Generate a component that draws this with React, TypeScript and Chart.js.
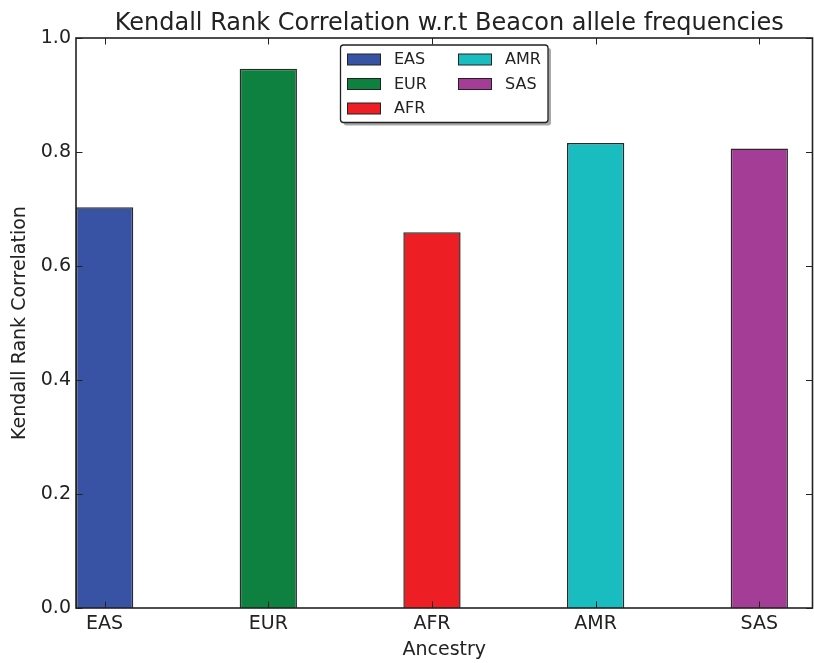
import React, { useEffect, useRef } from "react";
import { Chart, registerables } from "chart.js";

Chart.register(...registerables);

const TITLE = "Kendall Rank Correlation w.r.t Beacon allele frequencies";
const X_LABEL = "Ancestry";
const Y_LABEL = "Kendall Rank Correlation";
const CATEGORIES = ["EAS", "EUR", "AFR", "AMR", "SAS"];
const VALUES = [0.703, 0.946, 0.659, 0.816, 0.806];
const COLORS = ["#3953a4", "#0e803f", "#ed1f25", "#19bdbf", "#a33d95"];
const Y_TICKS = [0, 0.2, 0.4, 0.6, 0.8, 1.0];
const BAR_WIDTH = 0.35;
const X_MAX = 4.5;

const FONT = "'DejaVu Sans', 'Liberation Sans', sans-serif";
const INK = "#222222";

const framePlugin = {
  id: "frame",
  afterDraw(chart: any) {
    const { ctx, chartArea } = chart;
    const { left, right, top, bottom } = chartArea;
    const xs = chart.scales.x;
    const ys = chart.scales.y;
    ctx.save();
    // title
    ctx.fillStyle = INK;
    ctx.font = `24px ${FONT}`;
    ctx.textAlign = "center";
    ctx.textBaseline = "alphabetic";
    ctx.fillText(TITLE, (left + right) / 2 + 5, 29.5);

    // inward ticks
    ctx.strokeStyle = INK;
    ctx.lineWidth = 1;
    const tl = 6.5;
    ctx.beginPath();
    CATEGORIES.forEach((_, i) => {
      const px = Math.round(xs.getPixelForValue(i + BAR_WIDTH / 2)) + 0.5;
      ctx.moveTo(px, bottom);
      ctx.lineTo(px, bottom - tl);
      ctx.moveTo(px, top);
      ctx.lineTo(px, top + tl);
    });
    Y_TICKS.forEach((v) => {
      const py = Math.round(ys.getPixelForValue(v)) + 0.5;
      ctx.moveTo(left, py);
      ctx.lineTo(left + tl, py);
      ctx.moveTo(right, py);
      ctx.lineTo(right - tl, py);
    });
    ctx.stroke();
    // frame
    ctx.lineWidth = 1.6;
    ctx.strokeRect(left, top, right - left, bottom - top);

    // legend
    const lx = 340.5, ly = 45, lw = 207.5, lh = 77.5, r = 3;
    const rr = (x: number, y: number) => {
      ctx.beginPath();
      ctx.moveTo(x + r, y);
      ctx.lineTo(x + lw - r, y);
      ctx.arcTo(x + lw, y, x + lw, y + r, r);
      ctx.lineTo(x + lw, y + lh - r);
      ctx.arcTo(x + lw, y + lh, x + lw - r, y + lh, r);
      ctx.lineTo(x + r, y + lh);
      ctx.arcTo(x, y + lh, x, y + lh - r, r);
      ctx.lineTo(x, y + r);
      ctx.arcTo(x, y, x + r, y, r);
      ctx.closePath();
    };
    rr(lx + 3, ly + 3);
    ctx.fillStyle = "#a8a8a8";
    ctx.fill();
    rr(lx, ly);
    ctx.fillStyle = "#ffffff";
    ctx.fill();
    ctx.lineWidth = 1.3;
    ctx.strokeStyle = INK;
    ctx.stroke();

    ctx.font = `16px ${FONT}`;
    ctx.textBaseline = "middle";
    ctx.textAlign = "left";
    CATEGORIES.forEach((c, i) => {
      const col = i < 3 ? 0 : 1;
      const row = i < 3 ? i : i - 3;
      const sx = col === 0 ? 347.5 : 458.5;
      const cy = 59.5 + row * 24.5;
      ctx.fillStyle = COLORS[i];
      ctx.fillRect(sx, cy - 5.5, 33, 11);
      ctx.lineWidth = 1;
      ctx.strokeStyle = INK;
      ctx.strokeRect(sx, cy - 5.5, 33, 11);
      ctx.fillStyle = INK;
      ctx.fillText(c, sx + 46.5, cy + 0.5);
    });
    ctx.restore();
  },
};

export default function App() {
  const ref = useRef<HTMLCanvasElement>(null);
  useEffect(() => {
    if (!ref.current) return;
    const chart = new Chart(ref.current, {
      type: "bar",
      data: {
        datasets: [
          {
            label: Y_LABEL,
            data: CATEGORIES.map((_, i) => ({ x: i + BAR_WIDTH / 2, y: VALUES[i] })),
            backgroundColor: COLORS,
            borderColor: "#2a2a2a",
            borderWidth: 1.5,
            barPercentage: BAR_WIDTH,
            categoryPercentage: 1,
          },
        ],
      },
      options: {
        responsive: false,
        animation: false,
        layout: { padding: { left: 0, right: 1.5, top: 38, bottom: 0 } },
        plugins: {
          legend: { display: false },
          tooltip: { enabled: false },
          title: { display: false },
        },
        scales: {
          x: {
            type: "linear",
            offset: false,
            min: 0,
            max: X_MAX,
            afterBuildTicks: (s: any) => {
              s.ticks = CATEGORIES.map((_, i) => ({ value: i + BAR_WIDTH / 2 }));
            },
            afterFit: (s: any) => {
              s.height = 55;
            },
            ticks: {
              callback: (_v: any, idx: number) => CATEGORIES[idx],
              font: { family: FONT, size: 19 },
              color: INK,
              padding: 5,
              maxRotation: 0,
              autoSkip: false,
            },
            grid: { display: false, drawTicks: false, offset: false },
            border: { display: false },
            title: {
              display: true,
              text: X_LABEL,
              color: INK,
              font: { family: FONT, size: 19, lineHeight: 1.2 },
              padding: { top: 0, bottom: 2 },
            },
          },
          y: {
            type: "linear",
            min: 0,
            max: 1,
            afterBuildTicks: (s: any) => {
              s.ticks = Y_TICKS.map((v) => ({ value: v }));
            },
            afterFit: (s: any) => {
              s.width = 76;
            },
            ticks: {
              callback: (v: any) => Number(v).toFixed(1),
              font: { family: FONT, size: 19 },
              color: INK,
              padding: 5,
            },
            grid: { display: false, drawTicks: false },
            border: { display: false },
            title: {
              display: true,
              text: Y_LABEL,
              color: INK,
              font: { family: FONT, size: 19, lineHeight: 1.2 },
              padding: { top: 9, bottom: 0 },
            },
          },
        },
      },
      plugins: [framePlugin],
    });
    return () => chart.destroy();
  }, []);
  return (
    <div style={{ position: "absolute", left: 0, top: 0, width: 814, height: 663, background: "#fff" }}>
      <canvas ref={ref} width={814} height={663} style={{ display: "block" }} />
    </div>
  );
}
